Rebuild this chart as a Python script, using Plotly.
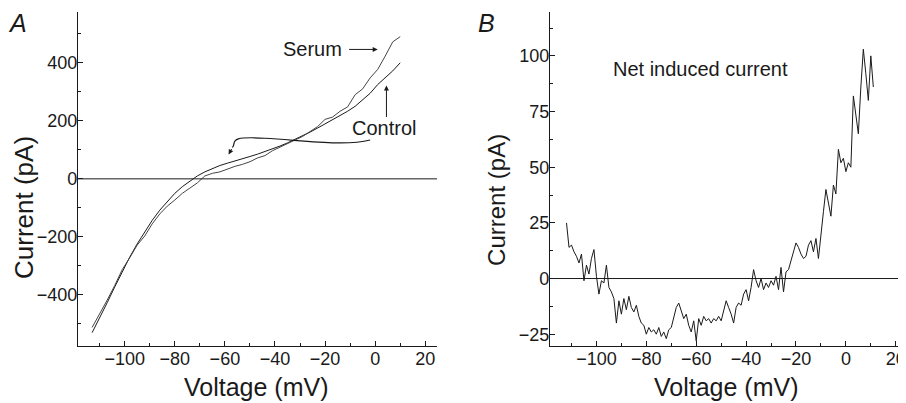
import plotly.graph_objects as go

# Panel A: I-V ramps, control vs serum (mV, pA)
volt_a = list(range(-113, 11, 3))
control = [-530, -480, -427, -373, -320, -270, -224, -182, -143, -108,
           -77, -50, -27, -7, 10, 24, 36, 46, 54, 61,
           69, 77, 85, 94, 104, 113, 124, 136, 148, 161,
           175, 189, 203, 218, 233, 250, 272, 295, 325, 348,
           372, 400]
serum = [-512, -466, -418, -368, -313, -272, -228, -197, -155, -121,
         -94, -73, -50, -32, -14, 10, 19, 24, 34, 43,
         50, 59, 72, 80, 97, 109, 122, 134, 146, 163,
         180, 205, 213, 233, 248, 290, 310, 348, 377, 423,
         472, 490]

# Panel B: net induced current (serum - control)
volt_b = list(range(-112, 12))
net = [25, 14, 15, 12, 10, 7, 11, -1, 6, 2,
       9, 13, 1, -7, -1, -2, 6, -4, -6, -9,
       -20, -10, -16, -9, -14, -8, -13, -15, -12, -17,
       -20, -21, -25, -22, -24, -23, -25, -22, -26, -24,
       -27, -23, -22, -18, -13, -11, -15, -18, -16, -21,
       -24, -19, -28, -18, -21, -17, -19, -18, -20, -18,
       -19, -17, -19, -15, -10, -13, -16, -20, -13, -11,
       -12, -7, -5, -10, -4, 4, -1, -4, 0, -5,
       -2, -4, -1, -3, 1, -5, 5, -6, 3, 4,
       8, 12, 16, 14, 11, 9, 10, 15, 17, 12,
       18, 9, 21, 30, 40, 33, 28, 42, 38, 58,
       52, 54, 48, 52, 50, 82, 73, 65, 86, 103,
       92, 80, 100, 86]

x_ticks = [-100, -80, -60, -40, -20, 0, 20]
ya_ticks = [-400, -200, 0, 200, 400]
yb_ticks = [-25, 0, 25, 50, 75, 100]

FONT = "Liberation Sans, Arial, sans-serif"
INK = "#1a1a1a"

# page body adds an 8px margin, so the figure is 898x395 and
# window pixel positions are converted with this offset
W, H, OFF = 898, 395, 8


def px(x):
    return (x - OFF) / W


def py(y):
    return 1 - (y - OFF) / H


fig = go.Figure()
fig.add_trace(go.Scatter(x=volt_a, y=control, mode="lines", name="Control",
                         line=dict(color=INK, width=1), xaxis="x", yaxis="y"))
fig.add_trace(go.Scatter(x=volt_a, y=serum, mode="lines", name="Serum",
                         line=dict(color="#444", width=1), xaxis="x", yaxis="y"))
fig.add_trace(go.Scatter(x=volt_b, y=net, mode="lines", name="Net",
                         line=dict(color=INK, width=1), xaxis="x2", yaxis="y2"))

ax_common = dict(
    showgrid=False, zeroline=False, showline=True, linecolor=INK, linewidth=1,
    ticks="inside", ticklen=5, tickcolor=INK, ticklabeloverflow="allow",
    tickfont=dict(family=FONT, size=18, color=INK),
)
xa = dict(ax_common, tickvals=x_ticks, ticklabelstandoff=-4,
          minor=dict(dtick=10, ticks="inside", ticklen=3, tickcolor=INK))
ydom = [py(346), py(12)]

fig.update_layout(
    width=W, height=H,
    paper_bgcolor="white", plot_bgcolor="white",
    margin=dict(l=0, r=0, t=0, b=0),
    showlegend=False,
    xaxis=dict(xa, domain=[px(78), px(438)], range=[-118.7, 24.7], anchor="y"),
    yaxis=dict(ax_common, domain=ydom, range=[-576, 575], tickvals=ya_ticks,
               anchor="x", ticklabelstandoff=-4,
               minor=dict(dtick=100, ticks="inside", ticklen=3, tickcolor=INK)),
    xaxis2=dict(xa, domain=[px(551), 1.0], range=[-118.7, 23.3], anchor="y2"),
    yaxis2=dict(ax_common, domain=ydom, range=[-30.3, 119.7], tickvals=yb_ticks,
                anchor="x2", ticklabelstandoff=-4,
                minor=dict(dtick=12.5, ticks="inside", ticklen=3, tickcolor=INK)),
)

# zero reference lines
fig.add_shape(type="line", xref="x domain", yref="y", x0=0, x1=1, y0=0, y1=0,
              line=dict(color=INK, width=1))
fig.add_shape(type="line", xref="x2 domain", yref="y2", x0=0, x1=1, y0=0, y1=0,
              line=dict(color=INK, width=1))

# curved pointer from the Control label
fig.add_shape(type="path", xref="x", yref="y",
              path="M -2,134 C -12,112 -28,132 -44,140 S -55,125 -57,108",
              line=dict(color=INK, width=1.2))

txt = dict(family=FONT, size=20, color=INK)
arrow = dict(showarrow=True, arrowhead=2, arrowsize=1, arrowwidth=1,
             arrowcolor=INK, axref="x", ayref="y", xref="x", yref="y")
fig.add_annotation(x=1, y=446, ax=-11, ay=446, text="", **arrow)
fig.add_annotation(x=4.5, y=322, ax=4.5, ay=208, text="", **arrow)
fig.add_annotation(x=-58.5, y=84, ax=-57, ay=108, text="", **arrow)
fig.add_annotation(x=-25, y=446, xref="x", yref="y", text="Serum",
                   showarrow=False, font=txt)
fig.add_annotation(x=3.6, y=175, xref="x", yref="y", text="Control",
                   showarrow=False, font=txt)
fig.add_annotation(x=-58.4, y=94, xref="x2", yref="y2", text="Net induced current",
                   showarrow=False, font=txt)

# axis titles and panel letters
center = dict(xref="paper", yref="paper", xanchor="center", yanchor="middle",
              showarrow=False)
ttl = dict(family=FONT, size=25, color=INK)
for xpos, text in [(257, "Voltage (mV)"), (728, "Voltage (mV)")]:
    fig.add_annotation(x=px(xpos), y=py(387), text=text, font=ttl, **center)
fig.add_annotation(x=px(24), y=py(207), text="Current (pA)", textangle=-90,
                   font=dict(family=FONT, size=26, color=INK), **center)
fig.add_annotation(x=px(498), y=py(200), text="Current (pA)", textangle=-90,
                   font=dict(family=FONT, size=24, color=INK), **center)
for xpos, letter in [(18, "A"), (488, "B")]:
    fig.add_annotation(x=px(xpos), y=py(23), text=f"<i>{letter}</i>",
                       font=dict(family=FONT, size=25, color=INK), **center)

fig.write_html("out.html")
